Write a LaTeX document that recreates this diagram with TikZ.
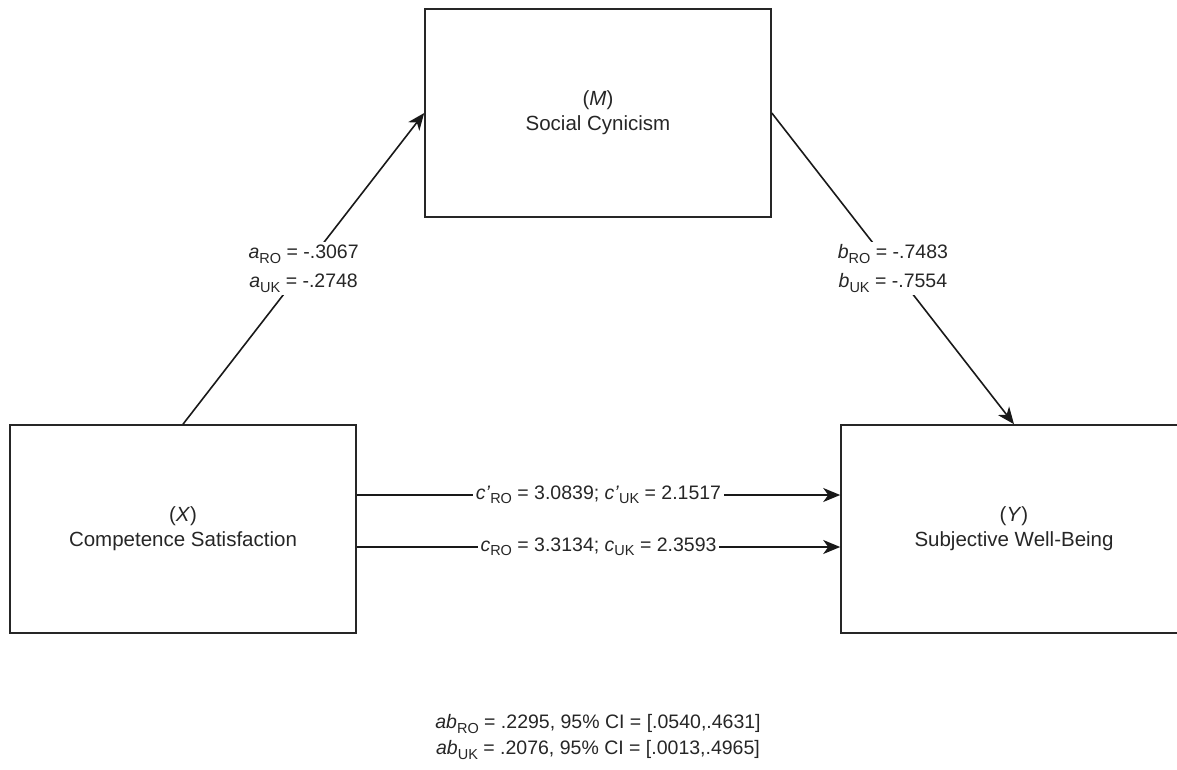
\documentclass[tikz,border=0pt]{standalone}
\usepackage{fontspec}
\setmainfont{Liberation Sans}
\usetikzlibrary{arrows.meta,calc}
\newcommand{\sbx}[1]{\raisebox{-4.5pt}{\fontsize{14.5}{14.5}\selectfont #1}}
\begin{document}
\begin{tikzpicture}[x=1pt,y=-1pt,
  box/.style={draw=black!85,line width=1.6pt,rectangle,minimum width=346pt,minimum height=208pt,inner sep=0pt,align=center,text=black!85,font=\fontsize{20.5}{25}\selectfont},
  conn/.style={line width=1.6pt,draw=black!90,-{Stealth[length=17pt,width=14pt,inset=5pt]}},
  lbl/.style={fill=white,inner sep=3pt,align=center,text=black!85,font=\fontsize{19.5}{29}\selectfont}]
\useasboundingbox (0,0) rectangle (1177,770);
\clip (0,0) rectangle (1177,770);
\node[box] (M) at (598,113) {(\textit{M})\\Social Cynicism};
\node[box] (X) at (183,529) {(\textit{X})\\Competence Satisfaction};
\node[box] (Y) at (1014,529) {(\textit{Y})\\Subjective Well-Being};
\draw[conn] (X.north) -- node[lbl] (la) {\textit{a}\sbx{RO} = -.3067\\\textit{a}\sbx{UK} = -.2748} (M.west);
\draw[conn] (M.east) -- node[lbl] (lb) {\textit{b}\sbx{RO} = -.7483\\\textit{b}\sbx{UK} = -.7554} (Y.north);
\draw[conn] ([yshift=34pt]X.east) -- node[lbl] (lcp) {\textit{c'}\sbx{RO} = 3.0839; \textit{c'}\sbx{UK} = 2.1517} ([yshift=34pt]Y.west);
\draw[conn] ([yshift=-18pt]X.east) -- node[lbl] (lc) {\textit{c}\sbx{RO} = 3.3134; \textit{c}\sbx{UK} = 2.3593} ([yshift=-18pt]Y.west);
\node[align=center,text=black!85,font=\fontsize{19.5}{26}\selectfont] (ab) at (598,737) {\textit{ab}\sbx{RO} = .2295, 95\% CI = [.0540,.4631]\\\textit{ab}\sbx{UK} = .2076, 95\% CI = [.0013,.4965]};
\end{tikzpicture}
\end{document}
